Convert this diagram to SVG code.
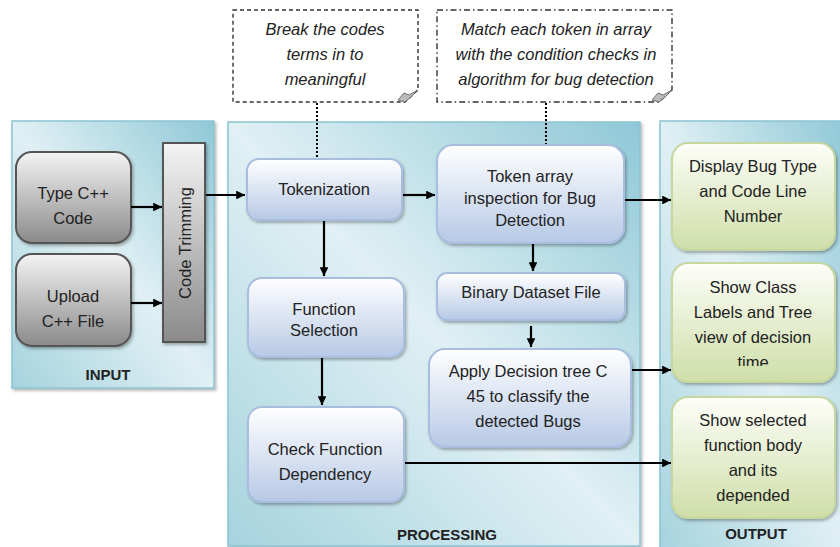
<svg xmlns="http://www.w3.org/2000/svg" width="840" height="547" viewBox="0 0 840 547">
<defs>
  <linearGradient id="panelGrad" x1="1" y1="0" x2="0" y2="1">
    <stop offset="0" stop-color="#8fc8d7"/>
    <stop offset="0.5" stop-color="#e0f0f4"/>
    <stop offset="1" stop-color="#a6d3de"/>
  </linearGradient>
  <linearGradient id="blueGrad" x1="0" y1="0" x2="0" y2="1">
    <stop offset="0" stop-color="#ffffff"/>
    <stop offset="1" stop-color="#b7c9e6"/>
  </linearGradient>
  <linearGradient id="greenGrad" x1="0" y1="0" x2="0" y2="1">
    <stop offset="0" stop-color="#fdfef9"/>
    <stop offset="1" stop-color="#cfdea8"/>
  </linearGradient>
  <linearGradient id="grayGrad" x1="0" y1="0" x2="0" y2="1">
    <stop offset="0" stop-color="#f4f4f4"/>
    <stop offset="1" stop-color="#8a8a8a"/>
  </linearGradient>
  <filter id="shadow" x="-10%" y="-10%" width="125%" height="130%">
    <feDropShadow dx="1.5" dy="2" stdDeviation="1.5" flood-color="#000" flood-opacity="0.3"/>
  </filter>
  <marker id="arrow" viewBox="0 0 10 10" refX="10" refY="5" markerWidth="4" markerHeight="4" orient="auto" markerUnits="strokeWidth">
    <path d="M0,0 L10,5 L0,10 z" fill="#000"/>
  </marker>
  <clipPath id="clipShow">
    <rect x="672" y="263" width="163" height="103"/>
  </clipPath>
</defs>
<style>
  .panel { fill: url(#panelGrad); stroke: #8cc3d2; stroke-width: 1.5; filter: url(#shadow); }
  .blue { fill: url(#blueGrad); stroke: #a9bedf; stroke-width: 2; filter: url(#shadow); }
  .green { fill: url(#greenGrad); stroke: #c6d7a0; stroke-width: 2; filter: url(#shadow); }
  .gray { fill: url(#grayGrad); stroke: #555; stroke-width: 2; filter: url(#shadow); }
  .note { fill: #fff; stroke: #333; stroke-width: 1.4; }
  .t { font-family: "Liberation Sans", Arial, sans-serif; font-size: 16.5px; fill: #222; text-anchor: middle; }
  .ti { font-family: "Liberation Sans", Arial, sans-serif; font-size: 16.5px; font-style: italic; fill: #222; text-anchor: middle; }
  .lbl { font-family: "Liberation Sans", Arial, sans-serif; font-size: 15px; font-weight: bold; fill: #222; text-anchor: middle; }
  .conn { stroke: #000; stroke-width: 2.2; fill: none; marker-end: url(#arrow); }
  .dot { stroke: #000; stroke-width: 2; fill: none; stroke-dasharray: 2 2; }
</style>

<!-- panels -->
<g id="panel-input">
  <rect class="panel" x="12" y="121" width="202" height="267"/>
  <text class="lbl" x="108" y="380">INPUT</text>
</g>
<g id="panel-processing">
  <rect class="panel" x="228" y="122" width="412" height="424"/>
  <text class="lbl" x="447" y="540">PROCESSING</text>
</g>
<g id="panel-output">
  <rect class="panel" x="660" y="121" width="186" height="430"/>
  <text class="lbl" x="756" y="539">OUTPUT</text>
</g>

<!-- callout notes -->
<g id="note-break">
  <path class="note" stroke-dasharray="4 3" d="M233,10 H418 V90 L405,102 H233 Z"/>
  <path d="M398,100 L404,93 L409,95 L418,90 L411,97 L405,102 Z" fill="#bbb" stroke="#555" stroke-width="0.8"/>
  <text class="ti" x="325" y="35">Break the codes</text>
  <text class="ti" x="325" y="60">terms in to</text>
  <text class="ti" x="325" y="85">meaningful</text>
</g>
<g id="note-match">
  <path class="note" stroke-dasharray="6 3 1.5 3" d="M437,10 H672 V90 L659,102 H437 Z"/>
  <path d="M652,100 L658,93 L663,95 L672,90 L665,97 L659,102 Z" fill="#bbb" stroke="#555" stroke-width="0.8"/>
  <text class="ti" x="556" y="35">Match each token in array</text>
  <text class="ti" x="556" y="60">with the condition checks in</text>
  <text class="ti" x="556" y="85">algorithm for bug detection</text>
</g>

<!-- input nodes -->
<g id="type-code">
  <rect class="gray" x="16" y="152" width="115" height="91" rx="16"/>
  <text class="t" x="73" y="199">Type C++</text>
  <text class="t" x="73" y="224">Code</text>
</g>
<g id="upload-file">
  <rect class="gray" x="16" y="254" width="115" height="92" rx="16"/>
  <text class="t" x="73" y="302">Upload</text>
  <text class="t" x="73" y="327">C++ File</text>
</g>
<g id="code-trimming">
  <rect class="gray" x="163" y="143" width="42" height="199"/>
  <text class="t" transform="translate(191,243) rotate(-90)">Code Trimming</text>
</g>

<!-- processing nodes -->
<g id="tokenization">
  <rect class="blue" x="247" y="159" width="155" height="61" rx="12"/>
  <text class="t" x="324" y="195">Tokenization</text>
</g>
<g id="token-array">
  <rect class="blue" x="437" y="145" width="187" height="98" rx="16"/>
  <text class="t" x="530" y="182">Token array</text>
  <text class="t" x="530" y="204">inspection for Bug</text>
  <text class="t" x="530" y="226">Detection</text>
</g>
<g id="binary-dataset">
  <rect class="blue" x="437" y="273" width="188" height="47" rx="10"/>
  <text class="t" x="531" y="298">Binary Dataset File</text>
</g>
<g id="function-selection">
  <rect class="blue" x="248" y="278" width="156" height="79" rx="14"/>
  <text class="t" x="324" y="315">Function</text>
  <text class="t" x="324" y="336">Selection</text>
</g>
<g id="apply-decision">
  <rect class="blue" x="429" y="349" width="202" height="98" rx="16"/>
  <text class="t" x="528" y="377">Apply Decision tree C</text>
  <text class="t" x="528" y="402">45 to classify the</text>
  <text class="t" x="528" y="427">detected Bugs</text>
</g>
<g id="check-dependency">
  <rect class="blue" x="248" y="407" width="156" height="95" rx="14"/>
  <text class="t" x="325" y="455">Check Function</text>
  <text class="t" x="325" y="480">Dependency</text>
</g>

<!-- output nodes -->
<g id="display-bug">
  <rect class="green" x="672" y="143" width="163" height="107" rx="16"/>
  <text class="t" x="753" y="172">Display Bug Type</text>
  <text class="t" x="753" y="197">and Code Line</text>
  <text class="t" x="753" y="222">Number</text>
</g>
<g id="show-class">
  <rect class="green" x="672" y="263" width="163" height="119" rx="16"/>
  <g clip-path="url(#clipShow)">
    <text class="t" x="753" y="293">Show Class</text>
    <text class="t" x="753" y="318">Labels and Tree</text>
    <text class="t" x="753" y="343">view of decision</text>
    <text class="t" x="753" y="368">time</text>
  </g>
</g>
<g id="show-selected">
  <rect class="green" x="672" y="397" width="163" height="121" rx="16"/>
  <text class="t" x="753" y="426">Show selected</text>
  <text class="t" x="753" y="451">function body</text>
  <text class="t" x="753" y="476">and its</text>
  <text class="t" x="753" y="501">depended</text>
</g>

<!-- connectors -->
<g id="connectors">
  <line class="dot" x1="317" y1="103" x2="317" y2="158"/>
  <line class="dot" x1="546" y1="103" x2="546" y2="144"/>
  <line class="conn" x1="131" y1="207" x2="162" y2="207"/>
  <line class="conn" x1="131" y1="303" x2="162" y2="303"/>
  <line class="conn" x1="206" y1="195" x2="245" y2="195"/>
  <line class="conn" x1="403" y1="195" x2="435" y2="195"/>
  <line class="conn" x1="324" y1="221" x2="324" y2="276"/>
  <line class="conn" x1="322" y1="358" x2="322" y2="405"/>
  <line class="conn" x1="533" y1="244" x2="533" y2="271"/>
  <line class="conn" x1="531" y1="326" x2="531" y2="347"/>
  <line class="conn" x1="625" y1="200" x2="671" y2="200"/>
  <line class="conn" x1="632" y1="370" x2="671" y2="370"/>
  <line class="conn" x1="405" y1="463" x2="671" y2="463"/>
</g>
</svg>
